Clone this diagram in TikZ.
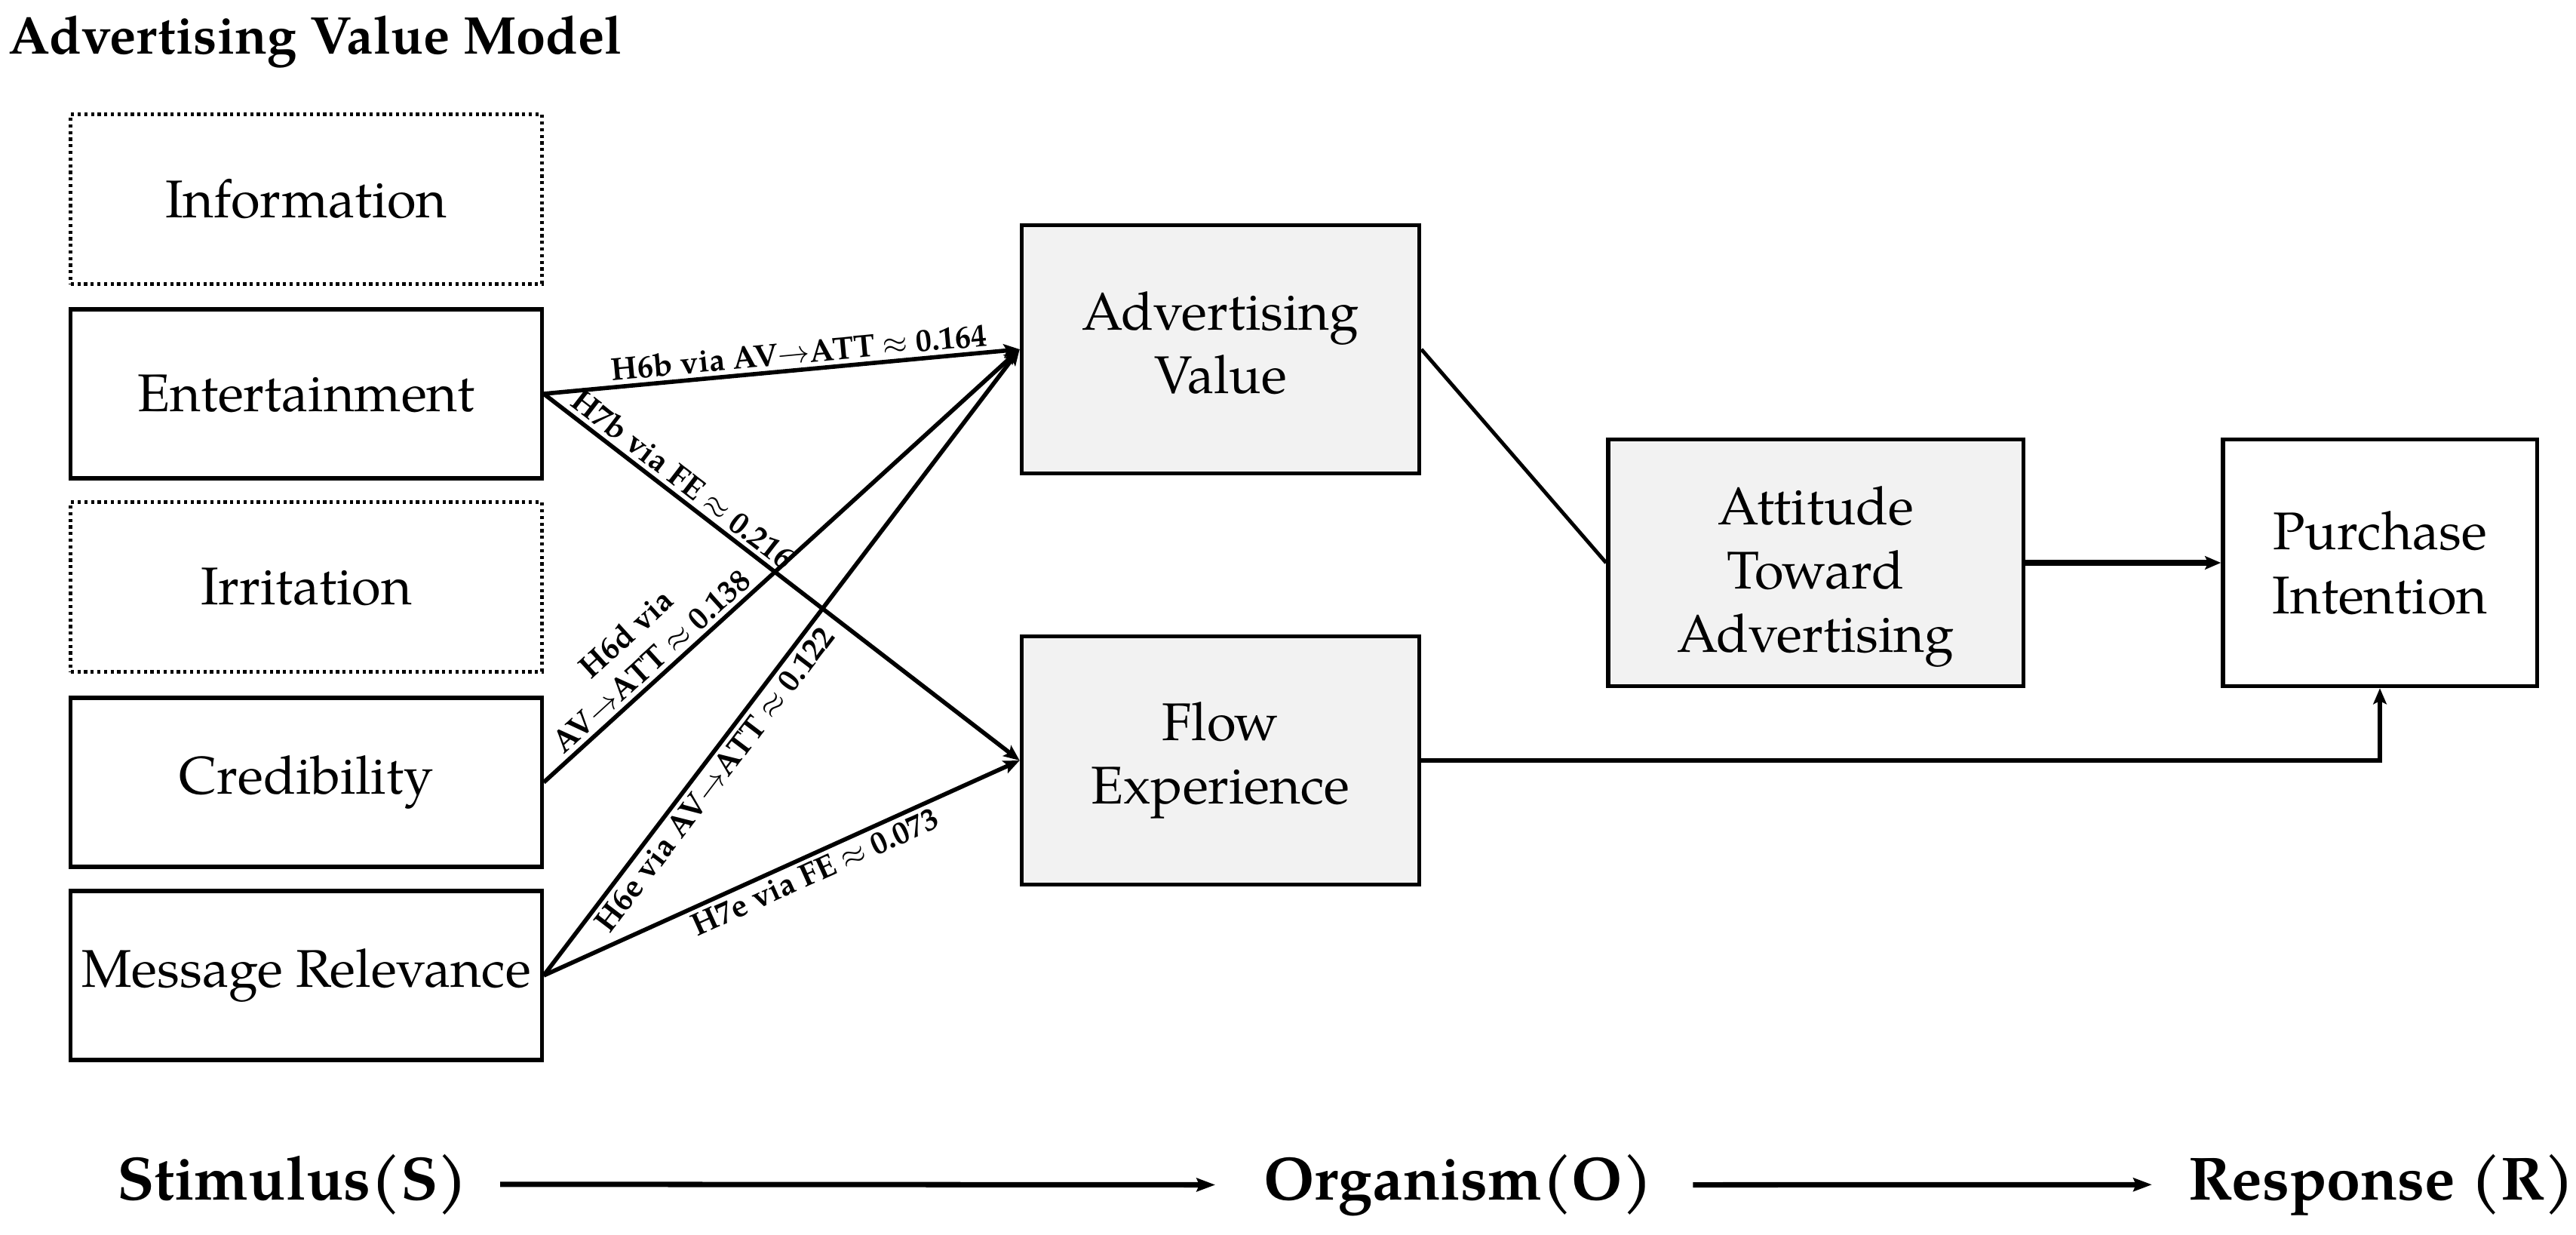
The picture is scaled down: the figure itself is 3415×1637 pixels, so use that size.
\documentclass[tikz,border=0pt]{standalone}
\usepackage{fontspec}
\setmainfont{texgyrepagella}[Extension=.otf,UprightFont=*-regular,BoldFont=*-bold,ItalicFont=*-italic,BoldItalicFont=*-bolditalic]
\usetikzlibrary{arrows.meta}
\definecolor{boxgray}{HTML}{F2F2F2}
\begin{document}
\begin{tikzpicture}[x=0.01cm,y=-0.01cm,
  boxtxt/.style={font=\fontsize{20}{24}\selectfont, align=center, inner sep=0pt},
  box/.style={boxtxt, draw, line width=1.5pt, minimum width=6.24cm, minimum height=2.24cm},
  dotbox/.style={box, line width=1.4pt, dash pattern=on 1.2pt off 1.3pt},
  midbox/.style={boxtxt, draw, line width=1.5pt, fill=boxgray},
  conn/.style={line width=1.6pt, -{Stealth[length=6pt,width=5pt,inset=1.2pt]}},
  elabel/.style={font=\bfseries\fontsize{12}{14}\selectfont, sloped, inner sep=1.5pt},
  bigarrow/.style={line width=2pt, -{Stealth[length=7pt,width=5pt,inset=1pt]}},
  bottomlbl/.style={anchor=base, font=\bfseries\fontsize{23}{27}\selectfont, inner sep=0pt}
]
\useasboundingbox (0,0) rectangle (3415,1637);

\node[anchor=base west, font=\bfseries\fontsize{20}{24}\selectfont, inner sep=0pt] (title) at (11,72) {Advertising Value Model};

\node[dotbox] (info) at (406,264) {Information};
\node[box] (ent) at (406,522) {Entertainment};
\node[dotbox] (irr) at (406,778) {Irritation};
\node[box] (cred) at (406,1037) {Credibility};
\node[box] (mr) at (406,1293) {Message Relevance};

\node[midbox, minimum width=5.27cm, minimum height=3.29cm] (av) at (1618,463) {Advertising\\Value\rule[-5pt]{0pt}{5pt}};
\node[midbox, minimum width=5.27cm, minimum height=3.29cm] (fe) at (1618,1008) {Flow\\Experience};
\node[midbox, minimum width=5.5cm, minimum height=3.27cm] (att) at (2407,746) {\rule{0pt}{25pt}Attitude\\Toward\\Advertising};
\node[boxtxt, draw, line width=1.5pt, minimum width=4.16cm, minimum height=3.27cm] (pi) at (3155,746) {Purchase\\Intention};

\draw[conn] (ent.east) -- node[elabel, above, pos=0.54] {H6b via AV$\rightarrow$ATT $\approx$ 0.164} (av.west);
\draw[conn] (ent.east) -- node[elabel, above, pos=0.27] {H7b via FE $\approx$ 0.216} (fe.west);
\draw[conn] (cred.east) -- node[elabel, above, pos=0.25, align=center] {H6d via\\AV$\rightarrow$ATT $\approx$ 0.138} (av.west);
\draw[conn] (mr.east) -- node[elabel, below, pos=0.33] {H6e via AV$\rightarrow$ATT $\approx$ 0.122} (av.west);
\draw[conn] (mr.east) -- node[elabel, below, pos=0.555] {H7e via FE $\approx$ 0.073} (fe.west);
\draw[line width=1.4pt] (av.east) -- (att.west);
\draw[conn, line width=2pt] (att.east) -- (pi.west);
\draw[conn, line width=1.8pt] (fe.east) -| (pi.south);

\node[bottomlbl] (stim) at (388,1590) {Stimulus(S)};
\node[bottomlbl] (org) at (1933,1590) {Organism(O)};
\node[bottomlbl] (resp) at (3157,1590) {Response (R)};
\draw[bigarrow, shorten <=12pt, shorten >=18pt] (stim.east) -- (org.west);
\draw[bigarrow, shorten <=15pt, shorten >=13.5pt] (org.east) -- (resp.west);
\end{tikzpicture}
\end{document}
